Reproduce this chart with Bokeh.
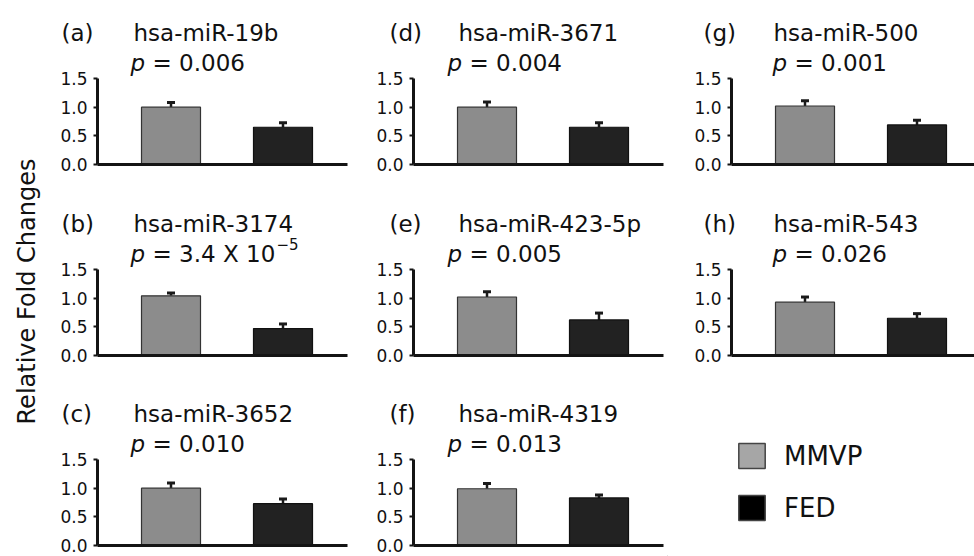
import math
from bokeh.plotting import figure
from bokeh.layouts import row, column
from bokeh.models import (Label, Legend, LegendItem, FixedTicker,
                          NumeralTickFormatter, ColumnDataSource)
from bokeh.embed import file_html
from bokeh.resources import INLINE

# ---------------- data ----------------
panel_letters = ["(a)", "(b)", "(c)", "(d)", "(e)", "(f)", "(g)", "(h)"]
mirnas = ["hsa-miR-19b", "hsa-miR-3174", "hsa-miR-3652", "hsa-miR-3671",
          "hsa-miR-423-5p", "hsa-miR-4319", "hsa-miR-500", "hsa-miR-543"]
p_main = ["= 0.006", "= 3.4 X 10", "= 0.010", "= 0.004",
          "= 0.005", "= 0.013", "= 0.001", "= 0.026"]
p_exp = ["", "\u22125", "", "", "", "", "", ""]
groups = ["MMVP", "FED"]
mmvp_mean = [1.00, 1.04, 1.00, 1.00, 1.02, 0.99, 1.02, 0.93]
mmvp_sem = [0.08, 0.05, 0.09, 0.09, 0.09, 0.09, 0.09, 0.09]
fed_mean = [0.65, 0.47, 0.73, 0.65, 0.62, 0.83, 0.69, 0.65]
fed_sem = [0.08, 0.08, 0.08, 0.08, 0.12, 0.05, 0.08, 0.08]
y_ticks = [0.0, 0.5, 1.0, 1.5]
y_label = "Relative Fold Changes"

# ---------------- style / layout ----------------
FONT = "DejaVu Sans"
MMVP_BAR = "#8c8c8c"
FED_BAR = "#222222"
MMVP_LEG = "#a6a6a6"
FED_LEG = "#000000"
AXIS_C = "#141414"

PX_X = 112.0                      # pixels per category unit
X_START = 1 - 73.5 / PX_X
BAR_W = 59 / PX_X
Y_MAX = 1.5
FRAME_H = 86
PX_Y = FRAME_H / Y_MAX

col_conf = [(300, 47, 3), (317, 63, 4), (307, 64, 0)]   # width, axis offset L, gap R
row_conf = [(190, 78, 26), (190, 79, 25), (176, 79, 11)]  # height, gap T, gap B
letter_dx = [-36, -24, -28]
name_dx = [36, 45, 42]
p_dx = [33, 34, 41]


def bare(p):
    p.outline_line_color = None
    p.grid.visible = False
    p.background_fill_color = "white"
    p.border_fill_color = "white"


def make_panel(i):
    ci, ri = i // 3, i % 3
    w, bl, br = col_conf[ci]
    h, bt, bb = row_conf[ri]
    fw = w - bl - br
    x_end = X_START + fw / PX_X
    p = figure(width=w, height=h,
               x_range=(X_START - bl / PX_X, X_START + (w - bl) / PX_X),
               y_range=(-bb / PX_Y, Y_MAX + bt / PX_Y),
               min_border=0, toolbar_location=None, output_backend="svg")
    bare(p)

    ya = p.yaxis[0]
    ya.fixed_location = X_START
    ya.bounds = (0, Y_MAX)
    ya.ticker = FixedTicker(ticks=y_ticks)
    ya.formatter = NumeralTickFormatter(format="0.0")
    ya.axis_line_width = 3
    ya.axis_line_color = AXIS_C
    ya.major_tick_line_width = 2
    ya.major_tick_line_color = AXIS_C
    ya.major_tick_out = 4
    ya.major_tick_in = 0
    ya.minor_tick_out = 0
    ya.minor_tick_in = 0
    ya.major_label_standoff = 6
    ya.major_label_text_font = FONT
    ya.major_label_text_font_size = "17px"
    ya.major_label_text_color = "#111111"

    xa = p.xaxis[0]
    xa.fixed_location = 0
    xa.bounds = (X_START, x_end)
    xa.ticker = FixedTicker(ticks=[])
    xa.axis_line_width = 3
    xa.axis_line_color = AXIS_C
    xa.major_tick_out = 0
    xa.major_tick_in = 0
    xa.minor_tick_out = 0
    xa.minor_tick_in = 0
    xa.major_label_text_font_size = "0px"
    xa.major_label_standoff = 0

    xs = [1, 2]
    tops = [mmvp_mean[i], fed_mean[i]]
    sems = [mmvp_sem[i], fed_sem[i]]
    uppers = [t + s for t, s in zip(tops, sems)]
    src = ColumnDataSource(dict(x=xs, top=tops, upper=uppers,
                                color=[MMVP_BAR, FED_BAR],
                                line=["#333333", "#111111"]))
    p.segment(x0="x", y0="top", x1="x", y1="upper", source=src,
              line_width=2.5, line_color="#1a1a1a")
    cap = 4 / PX_X
    p.segment(x0=[x - cap for x in xs], y0=uppers, x1=[x + cap for x in xs],
              y1=uppers, line_width=3, line_color="#1a1a1a")
    p.vbar(x="x", top="top", bottom=0, width=BAR_W, source=src,
           fill_color="color", line_color="line", line_width=1.2)

    y1 = Y_MAX + 46 / PX_Y
    y2 = Y_MAX + 16 / PX_Y
    common = dict(text_font=FONT, text_font_size="23px", text_color="#111111",
                  text_baseline="alphabetic", text_align="left")
    p.add_layout(Label(x=X_START + letter_dx[ci] / PX_X, y=y1,
                       text=panel_letters[i], **common))
    p.add_layout(Label(x=X_START + name_dx[ci] / PX_X, y=y1,
                       text=mirnas[i], **common))
    px = X_START + p_dx[ci] / PX_X
    p.add_layout(Label(x=px, y=y2, text="p", text_font_style="italic", **common))
    p.add_layout(Label(x=px, x_offset=22, y=y2, text=p_main[i], **common))
    if p_exp[i]:
        sup = dict(common)
        sup["text_font_size"] = "15px"
        p.add_layout(Label(x=px, x_offset=22 + 124, y=y2, y_offset=10,
                           text=p_exp[i], **sup))
    return p


panels = [make_panel(i) for i in range(8)]

# left label strip
lab = figure(width=50, height=556, x_range=(0, 50), y_range=(0, 556),
             x_axis_type=None, y_axis_type=None, min_border=0,
             toolbar_location=None, output_backend="svg")
bare(lab)
lab.add_layout(Label(x=26, y=556 - 291, text=y_label, angle=math.pi / 2,
                     text_align="center", text_baseline="middle",
                     text_font=FONT, text_font_size="24px", text_color="#111111"))

# legend panel (legend renderers hold no visible marks)
leg = figure(width=307, height=176, x_range=(0, 1), y_range=(0, 1),
             x_axis_type=None, y_axis_type=None, min_border=0,
             toolbar_location=None, output_backend="svg")
bare(leg)
r1 = leg.vbar(x=[-10], bottom=[-10], top=[-9], width=1, fill_color=MMVP_LEG,
              line_color="#444444", line_width=1.5)
r2 = leg.vbar(x=[-10], bottom=[-10], top=[-9], width=1, fill_color=FED_LEG,
              line_color="#444444", line_width=1.5)
legend = Legend(items=[LegendItem(label=groups[0], renderers=[r1]),
                       LegendItem(label=groups[1], renderers=[r2])],
                location=(68, 33), glyph_width=33, glyph_height=31,
                spacing=21, label_standoff=16, padding=0, margin=0,
                label_text_font=FONT, label_text_font_size="26px",
                label_text_color="#111111",
                border_line_color=None, background_fill_alpha=0)
leg.add_layout(legend)

layout = row(lab,
             column(panels[0], panels[1], panels[2]),
             column(panels[3], panels[4], panels[5]),
             column(panels[6], panels[7], leg))

open("out.html", "w").write(file_html(layout, INLINE))
